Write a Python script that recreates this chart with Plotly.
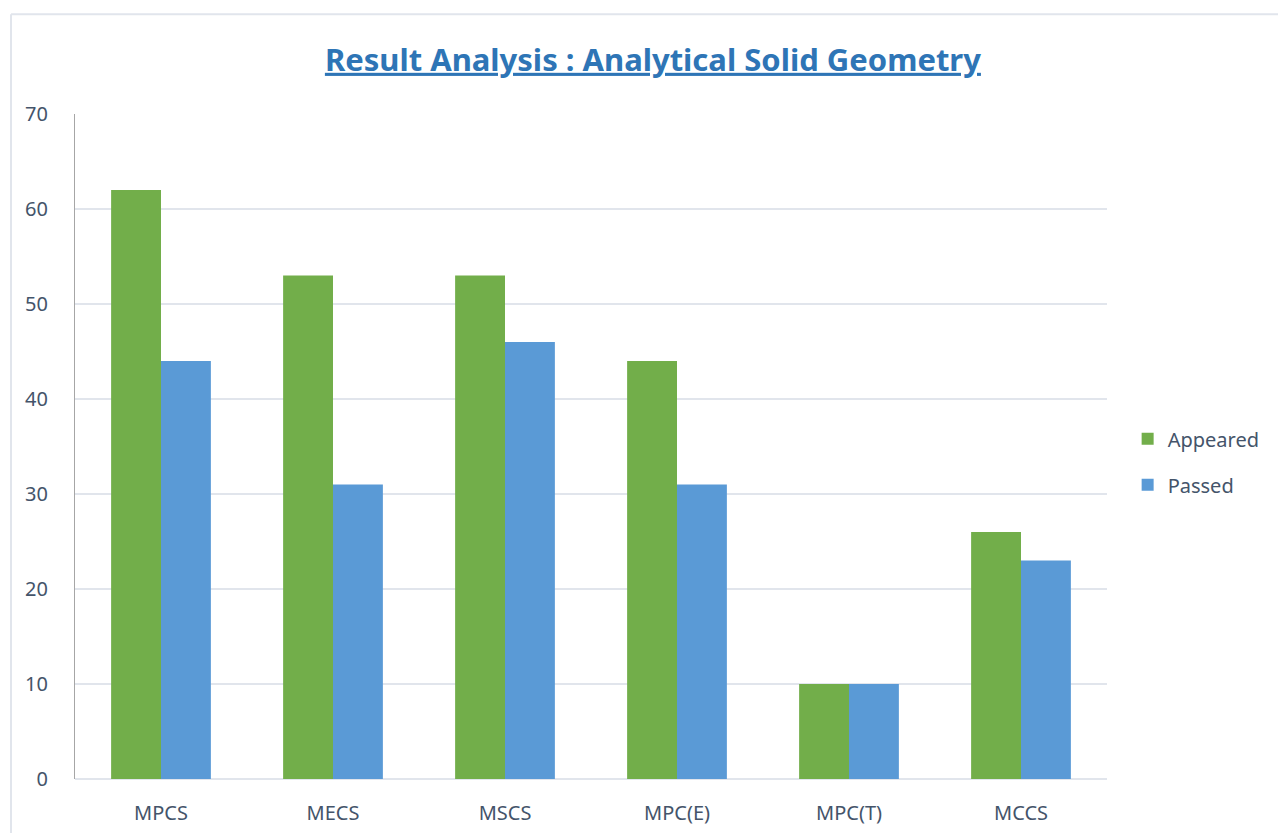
import plotly.graph_objects as go

categories = ["MPCS", "MECS", "MSCS", "MPC(E)", "MPC(T)", "MCCS"]
appeared = [62, 53, 53, 44, 10, 26]
passed = [44, 31, 46, 31, 10, 23]
y_ticks = [0, 10, 20, 30, 40, 50, 60, 70]

FONT = "Noto Sans"
TXT = "#44546a"

fig = go.Figure()
fig.add_trace(go.Bar(x=categories, y=appeared, name="Appeared", legendgroup="a",
                     marker=dict(color="#72ae4a", line=dict(width=0))))
fig.add_trace(go.Bar(x=categories, y=passed, name="Passed", legendgroup="b",
                     marker=dict(color="#5a9ad6", line=dict(width=0))))

fig.update_layout(
    width=1278, height=833,
    paper_bgcolor="white", plot_bgcolor="white",
    margin=dict(l=75, r=171, t=114, b=54, autoexpand=False),
    barmode="group", bargap=0.42, bargroupgap=0,
    font=dict(family=FONT, color=TXT),
    title=dict(
        text="<b><span style='text-decoration:underline'>Result Analysis : Analytical Solid Geometry</span></b>",
        x=0.56, xref="paper", xanchor="center",
        y=0.928, yref="container", yanchor="middle",
        font=dict(family=FONT, size=31, color="#2e75b6"),
    ),
    legend=dict(x=1.02, xanchor="left", y=0.477, yanchor="middle",
                font=dict(size=20, color=TXT), tracegroupgap=17,
                itemwidth=30, bgcolor="rgba(0,0,0,0)"),
    xaxis=dict(showgrid=False, showline=False, ticks="", automargin=False,
               tickfont=dict(size=20, color=TXT), ticklabelstandoff=20),
    yaxis=dict(range=[0, 70], tickvals=y_ticks, showgrid=True, automargin=False,
               gridcolor="#e1e5ec", gridwidth=2, zeroline=True,
               zerolinecolor="#e1e5ec", zerolinewidth=2,
               showline=True, linecolor="#a6a6a6", linewidth=1,
               ticks="", tickfont=dict(size=20, color=TXT),
               ticklabelstandoff=22),
    shapes=[
        dict(type="line", xref="paper", yref="paper", x0=-0.062, x1=1.2, y0=1.150, y1=1.150,
             line=dict(color="#e1e5ec", width=2)),
        dict(type="line", xref="paper", yref="paper", x0=-0.062, x1=-0.062, y0=1.150, y1=-0.1,
             line=dict(color="#e1e5ec", width=2)),
    ],
)

fig.write_html("out.html", config={"displayModeBar": False},
               post_script="document.body.style.margin='0';document.body.style.overflow='hidden';")
